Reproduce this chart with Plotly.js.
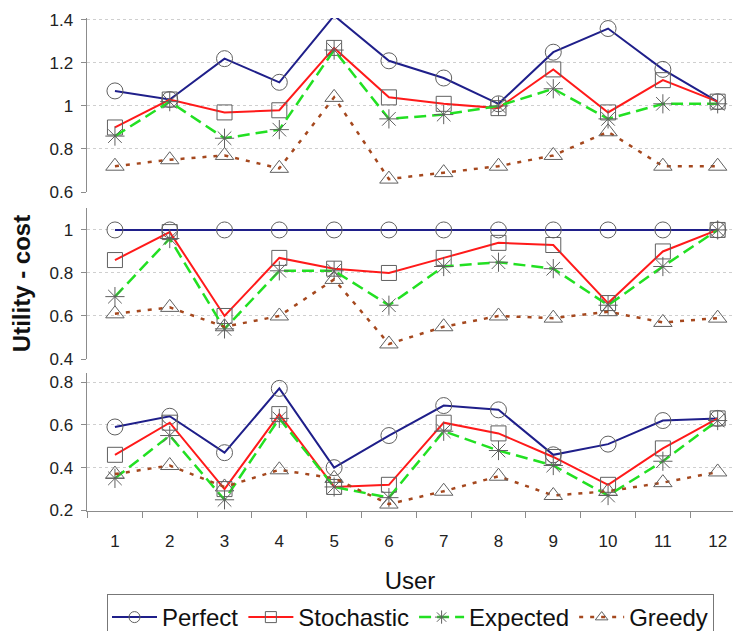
<!DOCTYPE html>
<html>
<head>
<meta charset="utf-8">
<script src="https://cdn.plot.ly/plotly-3.0.1.min.js"></script>
<style>html,body{margin:0;padding:0;background:#fff;overflow:hidden;width:733px;height:631px}#chart{width:733px;height:660px}</style>
</head>
<body>
<div id="chart"></div>
<script>
const users = ['1','2','3','4','5','6','7','8','9','10','11','12'];
const seriesNames = ['Perfect','Stochastic','Expected','Greedy'];

// Top panel
const topPerfect    = [1.07, 1.03, 1.22, 1.11, 1.42, 1.21, 1.13, 1.01, 1.25, 1.36, 1.17, 1.02];
const topStochastic = [0.90, 1.03, 0.97, 0.98, 1.27, 1.04, 1.01, 0.99, 1.17, 0.97, 1.12, 1.02];
const topExpected   = [0.86, 1.02, 0.85, 0.89, 1.26, 0.94, 0.96, 1.00, 1.08, 0.94, 1.01, 1.01];
const topGreedy     = [0.72, 0.75, 0.77, 0.71, 1.04, 0.66, 0.69, 0.72, 0.77, 0.88, 0.72, 0.72];

// Middle panel
const midPerfect    = [1, 1, 1, 1, 1, 1, 1, 1, 1, 1, 1, 1];
const midStochastic = [0.86, 0.99, 0.60, 0.87, 0.82, 0.80, 0.87, 0.94, 0.93, 0.66, 0.90, 1.00];
const midExpected   = [0.69, 0.96, 0.54, 0.81, 0.81, 0.65, 0.83, 0.85, 0.82, 0.65, 0.83, 1.00];
const midGreedy     = [0.61, 0.64, 0.55, 0.60, 0.77, 0.47, 0.55, 0.60, 0.59, 0.62, 0.57, 0.59];

// Bottom panel
const botPerfect    = [0.59, 0.64, 0.47, 0.77, 0.40, 0.55, 0.69, 0.67, 0.46, 0.51, 0.62, 0.63];
const botStochastic = [0.46, 0.61, 0.30, 0.65, 0.31, 0.32, 0.61, 0.56, 0.45, 0.32, 0.49, 0.63];
const botExpected   = [0.35, 0.55, 0.25, 0.63, 0.31, 0.26, 0.57, 0.48, 0.41, 0.27, 0.43, 0.62];
const botGreedy     = [0.37, 0.41, 0.31, 0.39, 0.35, 0.23, 0.29, 0.36, 0.27, 0.29, 0.33, 0.38];

const styles = [
  {color:'#1f1f8a', dash:'solid', width:2, symbol:'circle-open', size:16},
  {color:'#ff1a1a', dash:'solid', width:2, symbol:'square-open', size:15},
  {color:'#22e022', dash:'12px,6px', width:2.5, symbol:'asterisk-open', size:16},
  {color:'#a5481e', dash:'4px,7px', width:2.5, symbol:'triangle-up-open', size:16}
];
const MARKER_GRAY = '#606060';

const panels = [
  {y:'y',  data:[topPerfect, topStochastic, topExpected, topGreedy]},
  {y:'y2', data:[midPerfect, midStochastic, midExpected, midGreedy]},
  {y:'y3', data:[botPerfect, botStochastic, botExpected, botGreedy]}
];

const traces = [];
panels.forEach((p) => {
  p.data.forEach((vals, si) => {
    const s = styles[si];
    traces.push({
      type:'scatter', mode:'lines+markers', x:users, y:vals, xaxis:'x', yaxis:p.y,
      name:seriesNames[si], legendgroup:seriesNames[si], showlegend:false,
      cliponaxis:false,
      line:{color:s.color, dash:s.dash, width:s.width},
      marker:{symbol:s.symbol, size:s.size, color:MARKER_GRAY, line:{color:MARKER_GRAY, width:1}}
    });
  });
});
// legend-only entries (smaller sample markers, as in the reference key)
styles.forEach((s, si) => {
  traces.push({
    type:'scatter', mode:'lines+markers', x:[null], y:[null], xaxis:'x', yaxis:'y',
    name:seriesNames[si], legendgroup:seriesNames[si], showlegend:true,
    hoverinfo:'skip',
    line:{color:s.color, dash:s.dash, width:s.width},
    marker:{symbol:s.symbol, size:11, color:MARKER_GRAY, line:{color:MARKER_GRAY, width:1}}
  });
});

const H = 660;
const FONT = 'Liberation Sans, Arial, sans-serif';
const yBase = {
  showline:true, linecolor:'#8c8c8c', linewidth:1.5,
  ticks:'outside', ticklen:5, tickcolor:'#8c8c8c', tickwidth:1,
  showgrid:true, gridcolor:'#cfcfcf', griddash:'dot', gridwidth:1,
  zeroline:false, dtick:0.2, tick0:0,
  tickfont:{family:FONT, size:17, color:'#222'}, ticklabelstandoff:4,
  anchor:'x', fixedrange:true
};

const layout = {
  width:733, height:H,
  margin:{l:87, r:0, t:0, b:0},
  paper_bgcolor:'#fff', plot_bgcolor:'#fff',
  font:{family:FONT, color:'#222'},
  showlegend:true,
  legend:{
    orientation:'h', x:(107-87)/646, xanchor:'left', y:1-594/H, yanchor:'top',
    bordercolor:'#777', borderwidth:1, bgcolor:'#fff',
    font:{family:FONT, size:24, color:'#111'}, itemsizing:'trace', itemwidth:45, tracegroupgap:0
  },
  xaxis:{
    type:'category', categoryorder:'array', categoryarray:users,
    range:[-0.51, 11.28], anchor:'y3',
    showline:true, linecolor:'#8c8c8c', linewidth:1.5,
    ticks:'outside', tickson:'boundaries', ticklen:6, tickcolor:'#8c8c8c',
    showgrid:false, zeroline:false,
    tickfont:{family:FONT, size:17, color:'#222'}, ticklabelstandoff:15,
    title:{text:'User', font:{family:FONT, size:24, color:'#111'}, standoff:22},
    automargin:false, fixedrange:true
  },
  yaxis:Object.assign({}, yBase, {domain:[1-192/H, 1-18/H], range:[0.6, 1.409]}),
  yaxis2:Object.assign({}, yBase, {domain:[1-359/H, 1-208/H], range:[0.4, 1.102],
    title:{text:'<b>Utility - cost</b>', font:{family:FONT, size:24, color:'#111'}, standoff:12}}),
  yaxis3:Object.assign({}, yBase, {domain:[1-510.5/H, 1-373/H], range:[0.2, 0.842]})
};

Plotly.newPlot('chart', traces, layout, {staticPlot:true, displayModeBar:false});
</script>
</body>
</html>
